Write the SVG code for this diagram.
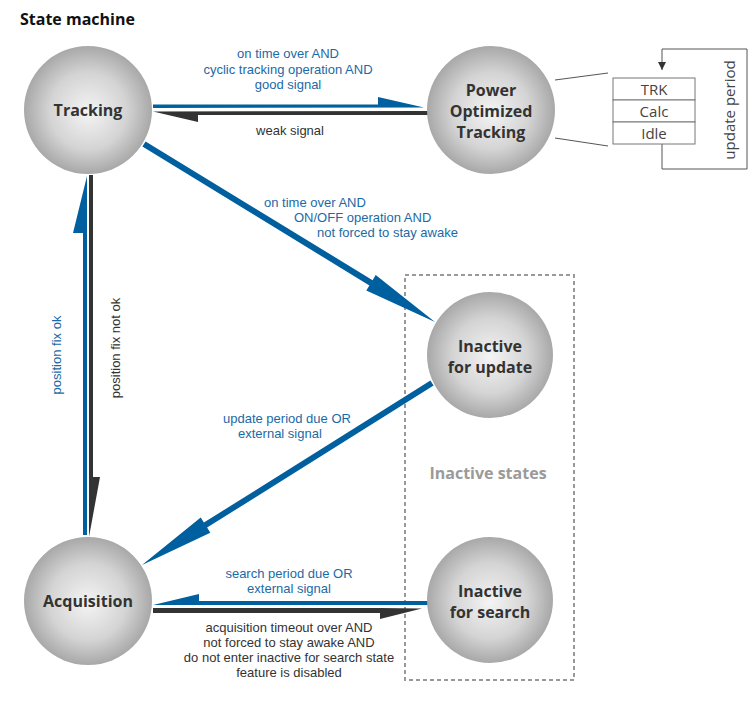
<svg xmlns="http://www.w3.org/2000/svg" width="755" height="705" viewBox="0 0 755 705">
<defs>
<radialGradient id="g" cx="50%" cy="50%" r="50%" fx="50%" fy="52%">
<stop offset="0" stop-color="#f4f4f4"/>
<stop offset="0.6" stop-color="#d4d4d4"/>
<stop offset="1" stop-color="#a8a8a8"/>
</radialGradient>
<marker id="tri" viewBox="0 0 10 10" refX="10" refY="5" markerWidth="8" markerHeight="8" markerUnits="userSpaceOnUse" orient="auto"><path d="M0,0 L10,5 L0,10 Z" fill="#333"/></marker>
</defs>
<style>
.node{fill:url(#g)}
.nt{font-family:"Open Sans","Liberation Sans",sans-serif;font-weight:bold;font-size:16px;fill:#333;text-anchor:middle}
.lb{font-family:"Liberation Sans",sans-serif;font-size:13px;fill:#1a6aa6}
.lk{font-family:"Liberation Sans",sans-serif;font-size:13px;fill:#333}
.c{text-anchor:middle}
.blue{fill:#005f9e}
.dark{fill:#333}
.box{fill:#fff;stroke:#777;stroke-width:1}
.bt{font-family:"Open Sans","Liberation Sans",sans-serif;font-size:15px;fill:#444;text-anchor:middle}
</style>
<rect width="755" height="705" fill="#fff"/>
<text x="20" y="25" font-family="Open Sans, Liberation Sans, sans-serif" font-weight="bold" font-size="16" fill="#111">State machine</text>

<rect x="405" y="275" width="169" height="405" fill="none" stroke="#999" stroke-width="2" stroke-dasharray="4,3"/>
<text x="488" y="479" font-family="Open Sans, Liberation Sans, sans-serif" font-weight="bold" font-size="16" fill="#9a9a9a" text-anchor="middle">Inactive states</text>

<g id="connectors">
<!-- Tracking -> Power -->
<path class="blue" d="M153,104.5 L378,104.5 L378,97 L424,107.5 L153,108 Z"/>
<!-- Power -> Tracking -->
<path class="dark" d="M428,111 L428,115 L198,115 L198,122 L153,111.5 Z"/>
<!-- Tracking -> Inactive for update -->
<path class="blue" d="M145.6,141.4 L372.6,280.2 L375.7,275.1 L435,322 L366.3,290.5 L369.4,285.4 L142.4,146.6 Z"/>
<!-- Inactive for update -> Acquisition -->
<path class="blue" d="M430.4,380.5 L433.6,385.5 L207.1,527.6 L210.3,532.7 L142,565 L200.7,517.5 L203.9,522.6 Z"/>
<!-- Acquisition -> Tracking (blue, up) -->
<path class="blue" d="M83,535 L83,233 L73,233 L87,176 L87,535 Z"/>
<!-- Tracking -> Acquisition (dark, down) -->
<path class="dark" d="M89,175 L93,175 L93,477 L100,477 L89,537 Z"/>
<!-- Inactive for search -> Acquisition (blue) -->
<path class="blue" d="M428,601 L428,605 L153,605 L199,594 L199,601 Z"/>
<!-- Acquisition -> Inactive for search (dark) -->
<path class="dark" d="M153,608 L380,608 L422,608.5 L380,619 L380,613 L153,613 Z"/>
<!-- Power -> detail box -->
<line x1="555" y1="80" x2="608" y2="73" stroke="#555" stroke-width="1"/>
<line x1="555" y1="138" x2="608" y2="146" stroke="#555" stroke-width="1"/>
<polyline points="662,144 662,169 747,169 747,49 662,49 662,70" fill="none" stroke="#555" stroke-width="1" marker-end="url(#tri)"/>
</g>

<g id="labels">
<text class="lb c" x="288" y="58">on time over AND</text>
<text class="lb c" x="288" y="74">cyclic tracking operation AND</text>
<text class="lb c" x="288" y="89">good signal</text>
<text class="lk c" x="290" y="135">weak signal</text>
<text class="lb" x="264" y="207">on time over AND</text>
<text class="lb" x="294" y="222">ON/OFF operation AND</text>
<text class="lb" x="317" y="237">not forced to stay awake</text>
<text class="lb" x="223" y="423">update period due OR</text>
<text class="lb" x="238" y="438">external signal</text>
<text class="lb c" x="289" y="578">search period due OR</text>
<text class="lb c" x="289" y="593">external signal</text>
<text class="lk c" x="289" y="632">acquisition timeout over AND</text>
<text class="lk c" x="289" y="647">not forced to stay awake AND</text>
<text class="lk c" x="289" y="662">do not enter inactive for search state</text>
<text class="lk c" x="289" y="677">feature is disabled</text>
<text class="lb c" transform="translate(61,355) rotate(-90)">position fix ok</text>
<text class="lk c" transform="translate(120,348) rotate(-90)">position fix not ok</text>
<text class="bt" transform="translate(735,110) rotate(-90)">update period</text>
</g>

<g id="tracking"><circle class="node" cx="88" cy="110" r="64"/><text class="nt" x="88" y="116">Tracking</text></g>
<g id="power"><circle class="node" cx="491" cy="110" r="64"/><text class="nt"><tspan x="491" y="96">Power</tspan><tspan x="491" y="117">Optimized</tspan><tspan x="491" y="138">Tracking</tspan></text></g>
<g id="inactive-update"><circle class="node" cx="490" cy="355" r="63"/><text class="nt"><tspan x="490" y="352">Inactive</tspan><tspan x="490" y="373">for update</tspan></text></g>
<g id="inactive-search"><circle class="node" cx="490" cy="600" r="63"/><text class="nt"><tspan x="490" y="597">Inactive</tspan><tspan x="490" y="618">for search</tspan></text></g>
<g id="acquisition"><circle class="node" cx="88" cy="601" r="64"/><text class="nt" x="88" y="607">Acquisition</text></g>

<g id="detail-box">
<rect class="box" x="613" y="78" width="82" height="22"/>
<rect class="box" x="613" y="100" width="82" height="22"/>
<rect class="box" x="613" y="122" width="82" height="22"/>
<text class="bt" x="654" y="95">TRK</text>
<text class="bt" x="654" y="117">Calc</text>
<text class="bt" x="654" y="139">Idle</text>
</g>
</svg>
